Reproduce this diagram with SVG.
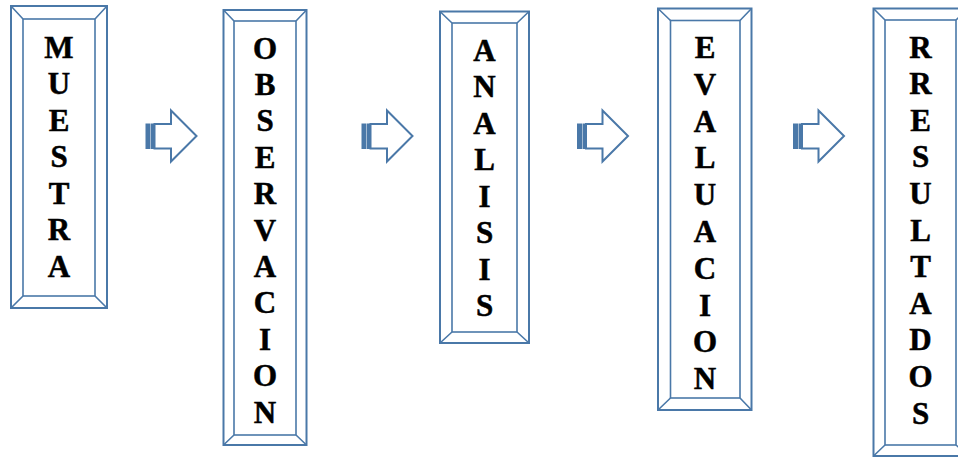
<svg xmlns="http://www.w3.org/2000/svg" width="958" height="457" viewBox="0 0 958 457">
<style>
.frame{fill:#ffffff;stroke:#4a78a8;stroke-width:2}
.bev{fill:none;stroke:#4a78a8;stroke-width:1.6}
.lbl{font-family:"Liberation Serif","Times New Roman",serif;font-weight:700;font-size:31px;fill:#000000;stroke:#000000;stroke-width:0.5;text-anchor:middle}
.arr{fill:#ffffff;stroke:#4a78a8;stroke-width:2;stroke-linejoin:miter}
.stripe{fill:#4a78a8;stroke:#4a78a8;stroke-width:1}
</style>
<rect width="958" height="457" fill="#ffffff"/>

<g id="node-muestra">
<rect class="frame" x="11" y="6" width="96" height="302"/>
<rect class="bev" x="23" y="19" width="72" height="277"/>
<path class="bev" d="M11 6L23 19M107 6L95 19M11 308L23 296M107 308L95 296"/>
<text class="lbl"><tspan x="59" y="57.5">M</tspan><tspan x="59" y="94">U</tspan><tspan x="59" y="130.5">E</tspan><tspan x="59" y="167">S</tspan><tspan x="59" y="203.5">T</tspan><tspan x="59" y="240">R</tspan><tspan x="59" y="276.5">A</tspan></text>
</g>

<g id="node-observacion">
<rect class="frame" x="223.5" y="10" width="83" height="435"/>
<rect class="bev" x="234" y="21" width="62" height="414"/>
<path class="bev" d="M223.5 10L234 21M306.5 10L296 21M223.5 445L234 435M306.5 445L296 435"/>
<text class="lbl"><tspan x="265" y="58.5">O</tspan><tspan x="265" y="94.9">B</tspan><tspan x="265" y="131.3">S</tspan><tspan x="265" y="167.7">E</tspan><tspan x="265" y="204.1">R</tspan><tspan x="265" y="240.5">V</tspan><tspan x="265" y="276.9">A</tspan><tspan x="265" y="313.3">C</tspan><tspan x="265" y="349.7">I</tspan><tspan x="265" y="386.1">O</tspan><tspan x="265" y="422.5">N</tspan></text>
</g>

<g id="node-analisis">
<rect class="frame" x="440" y="11.5" width="89" height="331.5"/>
<rect class="bev" x="452" y="23" width="65" height="309"/>
<path class="bev" d="M440 11.5L452 23M529 11.5L517 23M440 343L452 332M529 343L517 332"/>
<text class="lbl"><tspan x="484.5" y="60.5">A</tspan><tspan x="484.5" y="97">N</tspan><tspan x="484.5" y="133.5">A</tspan><tspan x="484.5" y="170">L</tspan><tspan x="484.5" y="206.5">I</tspan><tspan x="484.5" y="243">S</tspan><tspan x="484.5" y="279.5">I</tspan><tspan x="484.5" y="316">S</tspan></text>
</g>

<g id="node-evaluacion">
<rect class="frame" x="658" y="8.5" width="93.5" height="401.5"/>
<rect class="bev" x="670.5" y="20.5" width="69.5" height="377.5"/>
<path class="bev" d="M658 8.5L670.5 20.5M751.5 8.5L740 20.5M658 410L670.5 398M751.5 410L740 398"/>
<text class="lbl"><tspan x="705" y="58">E</tspan><tspan x="705" y="94.8">V</tspan><tspan x="705" y="131.6">A</tspan><tspan x="705" y="168.4">L</tspan><tspan x="705" y="205.2">U</tspan><tspan x="705" y="242">A</tspan><tspan x="705" y="278.8">C</tspan><tspan x="705" y="315.6">I</tspan><tspan x="705" y="352.4">O</tspan><tspan x="705" y="389.2">N</tspan></text>
</g>

<g id="node-resultados">
<rect class="frame" x="873.5" y="8.5" width="95" height="447.5"/>
<rect class="bev" x="885" y="20" width="71" height="425"/>
<path class="bev" d="M873.5 8.5L885 20M968.5 8.5L956 20M873.5 456L885 445M968.5 456L956 445"/>
<text class="lbl"><tspan x="920.5" y="57.5">R</tspan><tspan x="920.5" y="94.1">R</tspan><tspan x="920.5" y="130.7">E</tspan><tspan x="920.5" y="167.3">S</tspan><tspan x="920.5" y="203.9">U</tspan><tspan x="920.5" y="240.5">L</tspan><tspan x="920.5" y="277.1">T</tspan><tspan x="920.5" y="313.7">A</tspan><tspan x="920.5" y="350.3">D</tspan><tspan x="920.5" y="386.9">O</tspan><tspan x="920.5" y="423.5">S</tspan></text>
</g>

<g id="connectors">
<defs>
<g id="striped-arrow">
<rect class="stripe" x="0.5" y="124" width="4" height="24.5"/>
<rect class="stripe" x="6" y="124" width="2" height="24.5"/>
<path class="arr" d="M9 124H25.5V110.5L51 136L25.5 161.5V148.5H9Z"/>
</g>
</defs>
<use href="#striped-arrow" x="145.5" y="0"/>
<use href="#striped-arrow" x="361.5" y="0"/>
<use href="#striped-arrow" x="577" y="0"/>
<use href="#striped-arrow" x="793" y="0"/>
</g>
</svg>
